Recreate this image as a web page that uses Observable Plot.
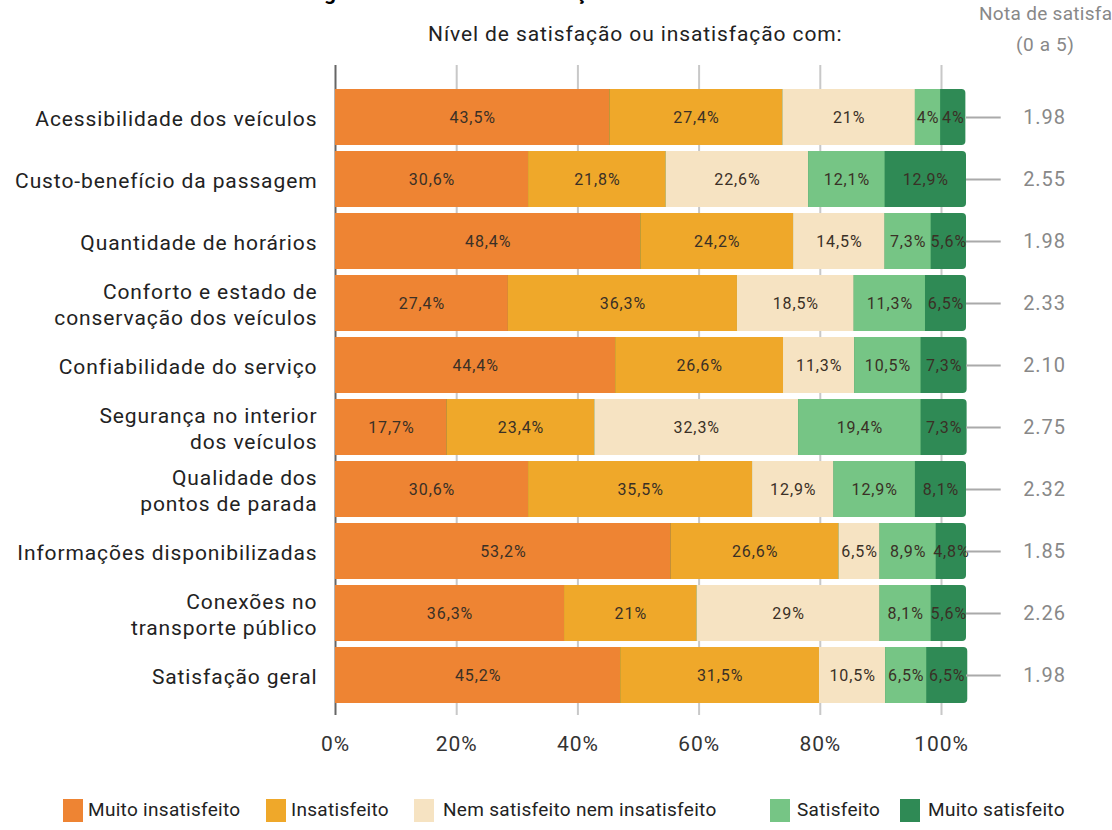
<!DOCTYPE html>
<html><head><meta charset="utf-8">
<script src="https://cdn.jsdelivr.net/npm/d3@7"></script>
<script src="https://cdn.jsdelivr.net/npm/@observablehq/plot@0.6"></script>
<style>
body{margin:0;background:#fff;font-family:Roboto,"Noto Sans",sans-serif;}
#wrap{position:relative;width:1112px;height:830px;overflow:hidden;background:#fff;}
.abs{position:absolute;white-space:nowrap;letter-spacing:0.9px;}
.sw{position:absolute;width:20px;height:23px;}
.lg{position:absolute;font-size:19px;color:#222;white-space:nowrap;letter-spacing:0.3px;}
</style></head><body><div id="wrap"></div>
<script>
const categories = [
  "Acessibilidade dos veículos",
  "Custo-benefício da passagem",
  "Quantidade de horários",
  "Conforto e estado de\nconservação dos veículos",
  "Confiabilidade do serviço",
  "Segurança no interior\ndos veículos",
  "Qualidade dos\npontos de parada",
  "Informações disponibilizadas",
  "Conexões no\ntransporte público",
  "Satisfação geral"
];
const muitoInsatisfeito = [43.5, 30.6, 48.4, 27.4, 44.4, 17.7, 30.6, 53.2, 36.3, 45.2];
const insatisfeito      = [27.4, 21.8, 24.2, 36.3, 26.6, 23.4, 35.5, 26.6, 21.0, 31.5];
const nemNem            = [21.0, 22.6, 14.5, 18.5, 11.3, 32.3, 12.9, 6.5, 29.0, 10.5];
const satisfeito        = [4.0, 12.1, 7.3, 11.3, 10.5, 19.4, 12.9, 8.9, 8.1, 6.5];
const muitoSatisfeito   = [4.0, 12.9, 5.6, 6.5, 7.3, 7.3, 8.1, 4.8, 5.6, 6.5];
const notas = ["1.98", "2.55", "1.98", "2.33", "2.10", "2.75", "2.32", "1.85", "2.26", "1.98"];
const levels = ["Muito insatisfeito", "Insatisfeito", "Nem satisfeito nem insatisfeito", "Satisfeito", "Muito satisfeito"];
const colors = ["#EE8433", "#EFA82A", "#F6E3C2", "#76C585", "#2F8A55"];
const xTicks = [0, 20, 40, 60, 80, 100];

const series = [muitoInsatisfeito, insatisfeito, nemNem, satisfeito, muitoSatisfeito];
const rows = [];
categories.forEach((c, i) => levels.forEach((l, j) => rows.push({cat: c, level: l, value: series[j][i]})));
const totals = categories.map((c, i) => ({cat: c, total: d3.sum(series, s => s[i]), nota: notas[i]}));
const fmt = v => String(v).replace(".", ",") + "%";
const FONT = "Roboto, 'Noto Sans', sans-serif";

const wrap = document.getElementById("wrap");

const gridPlot = Plot.plot({
  width: 1112, height: 720,
  marginLeft: 335, marginRight: 171, marginTop: 15, marginBottom: 55,
  x: {domain: [0, 100]},
  style: {fontFamily: FONT, fontSize: "21px", letterSpacing: "0.9px", background: "transparent", overflow: "visible"},
  marks: [
    Plot.ruleX(xTicks.filter(t => t > 0), {stroke: "#c8c8c8", strokeWidth: 2}),
    Plot.ruleX([0], {stroke: "#666", strokeWidth: 2}),
    Plot.axisX(xTicks, {tickSize: 0, tickPadding: 21, tickFormat: d => d + "%", fontSize: 21, fill: "#333", label: null})
  ]
});
gridPlot.style.position = "absolute"; gridPlot.style.left = "0px"; gridPlot.style.top = "50px";
wrap.appendChild(gridPlot);

const barPlot = Plot.plot({
  width: 1112, height: 720,
  marginLeft: 335, marginRight: 146, marginTop: 32, marginBottom: 60,
  x: {domain: [0, 100], axis: null},
  y: {domain: categories, padding: 0.09, label: null, axis: null},
  color: {domain: levels, range: colors},
  style: {fontFamily: FONT, fontSize: "21px", letterSpacing: "0.9px", background: "transparent", overflow: "visible"},
  marks: [
    Plot.barX(totals, {x: "total", y: "cat", fill: colors[4], rx: 4}),
    Plot.barX(rows.filter(d => d.level !== levels[4]), Plot.stackX({x: "value", y: "cat", fill: "level"})),
    Plot.text(rows, Plot.stackX({x: "value", y: "cat", z: "level", text: d => fmt(d.value), fontSize: 16, fill: "#3a3026"})),
    Plot.ruleY(totals, {y: "cat", x1: 100, x2: 105.5, stroke: "#aaa", strokeWidth: 2}),
    Plot.text(totals, {y: "cat", x: 100, dx: 78, text: "nota", fill: "#888", fontSize: 20}),
    Plot.axisY({tickSize: 0, tickPadding: 18, fontSize: 21, fill: "#222", lineHeight: 1.22, label: null})
  ]
});
barPlot.style.position = "absolute"; barPlot.style.left = "0px"; barPlot.style.top = "50px";
wrap.appendChild(barPlot);

function addText(txt, css) {
  const d = document.createElement("div");
  d.className = "abs"; d.textContent = txt; Object.assign(d.style, css); wrap.appendChild(d);
}
addText("Figura 3 – Nível de satisfação do usuário", {left: "305px", top: "-19px", fontSize: "21px", fontWeight: "bold", color: "#000"});
addText("Nível de satisfação ou insatisfação com:", {left: "428px", top: "22px", fontSize: "21px", color: "#222"});
addText("Nota de satisfação", {left: "979px", top: "2px", fontSize: "19px", color: "#888", letterSpacing: "0.3px"});
addText("(0 a 5)", {left: "1016px", top: "33px", fontSize: "19px", color: "#888", letterSpacing: "0.6px"});

const legendSwatchX = [63, 266, 414, 770, 900];
const legendTextX = [88, 291, 443, 797, 928];
levels.forEach((l, i) => {
  const s = document.createElement("div");
  s.className = "sw"; s.style.left = legendSwatchX[i] + "px"; s.style.top = "799px"; s.style.background = colors[i];
  wrap.appendChild(s);
  const t = document.createElement("div");
  t.className = "lg"; t.textContent = l; t.style.left = legendTextX[i] + "px"; t.style.top = "798px";
  wrap.appendChild(t);
});
</script></body></html>
